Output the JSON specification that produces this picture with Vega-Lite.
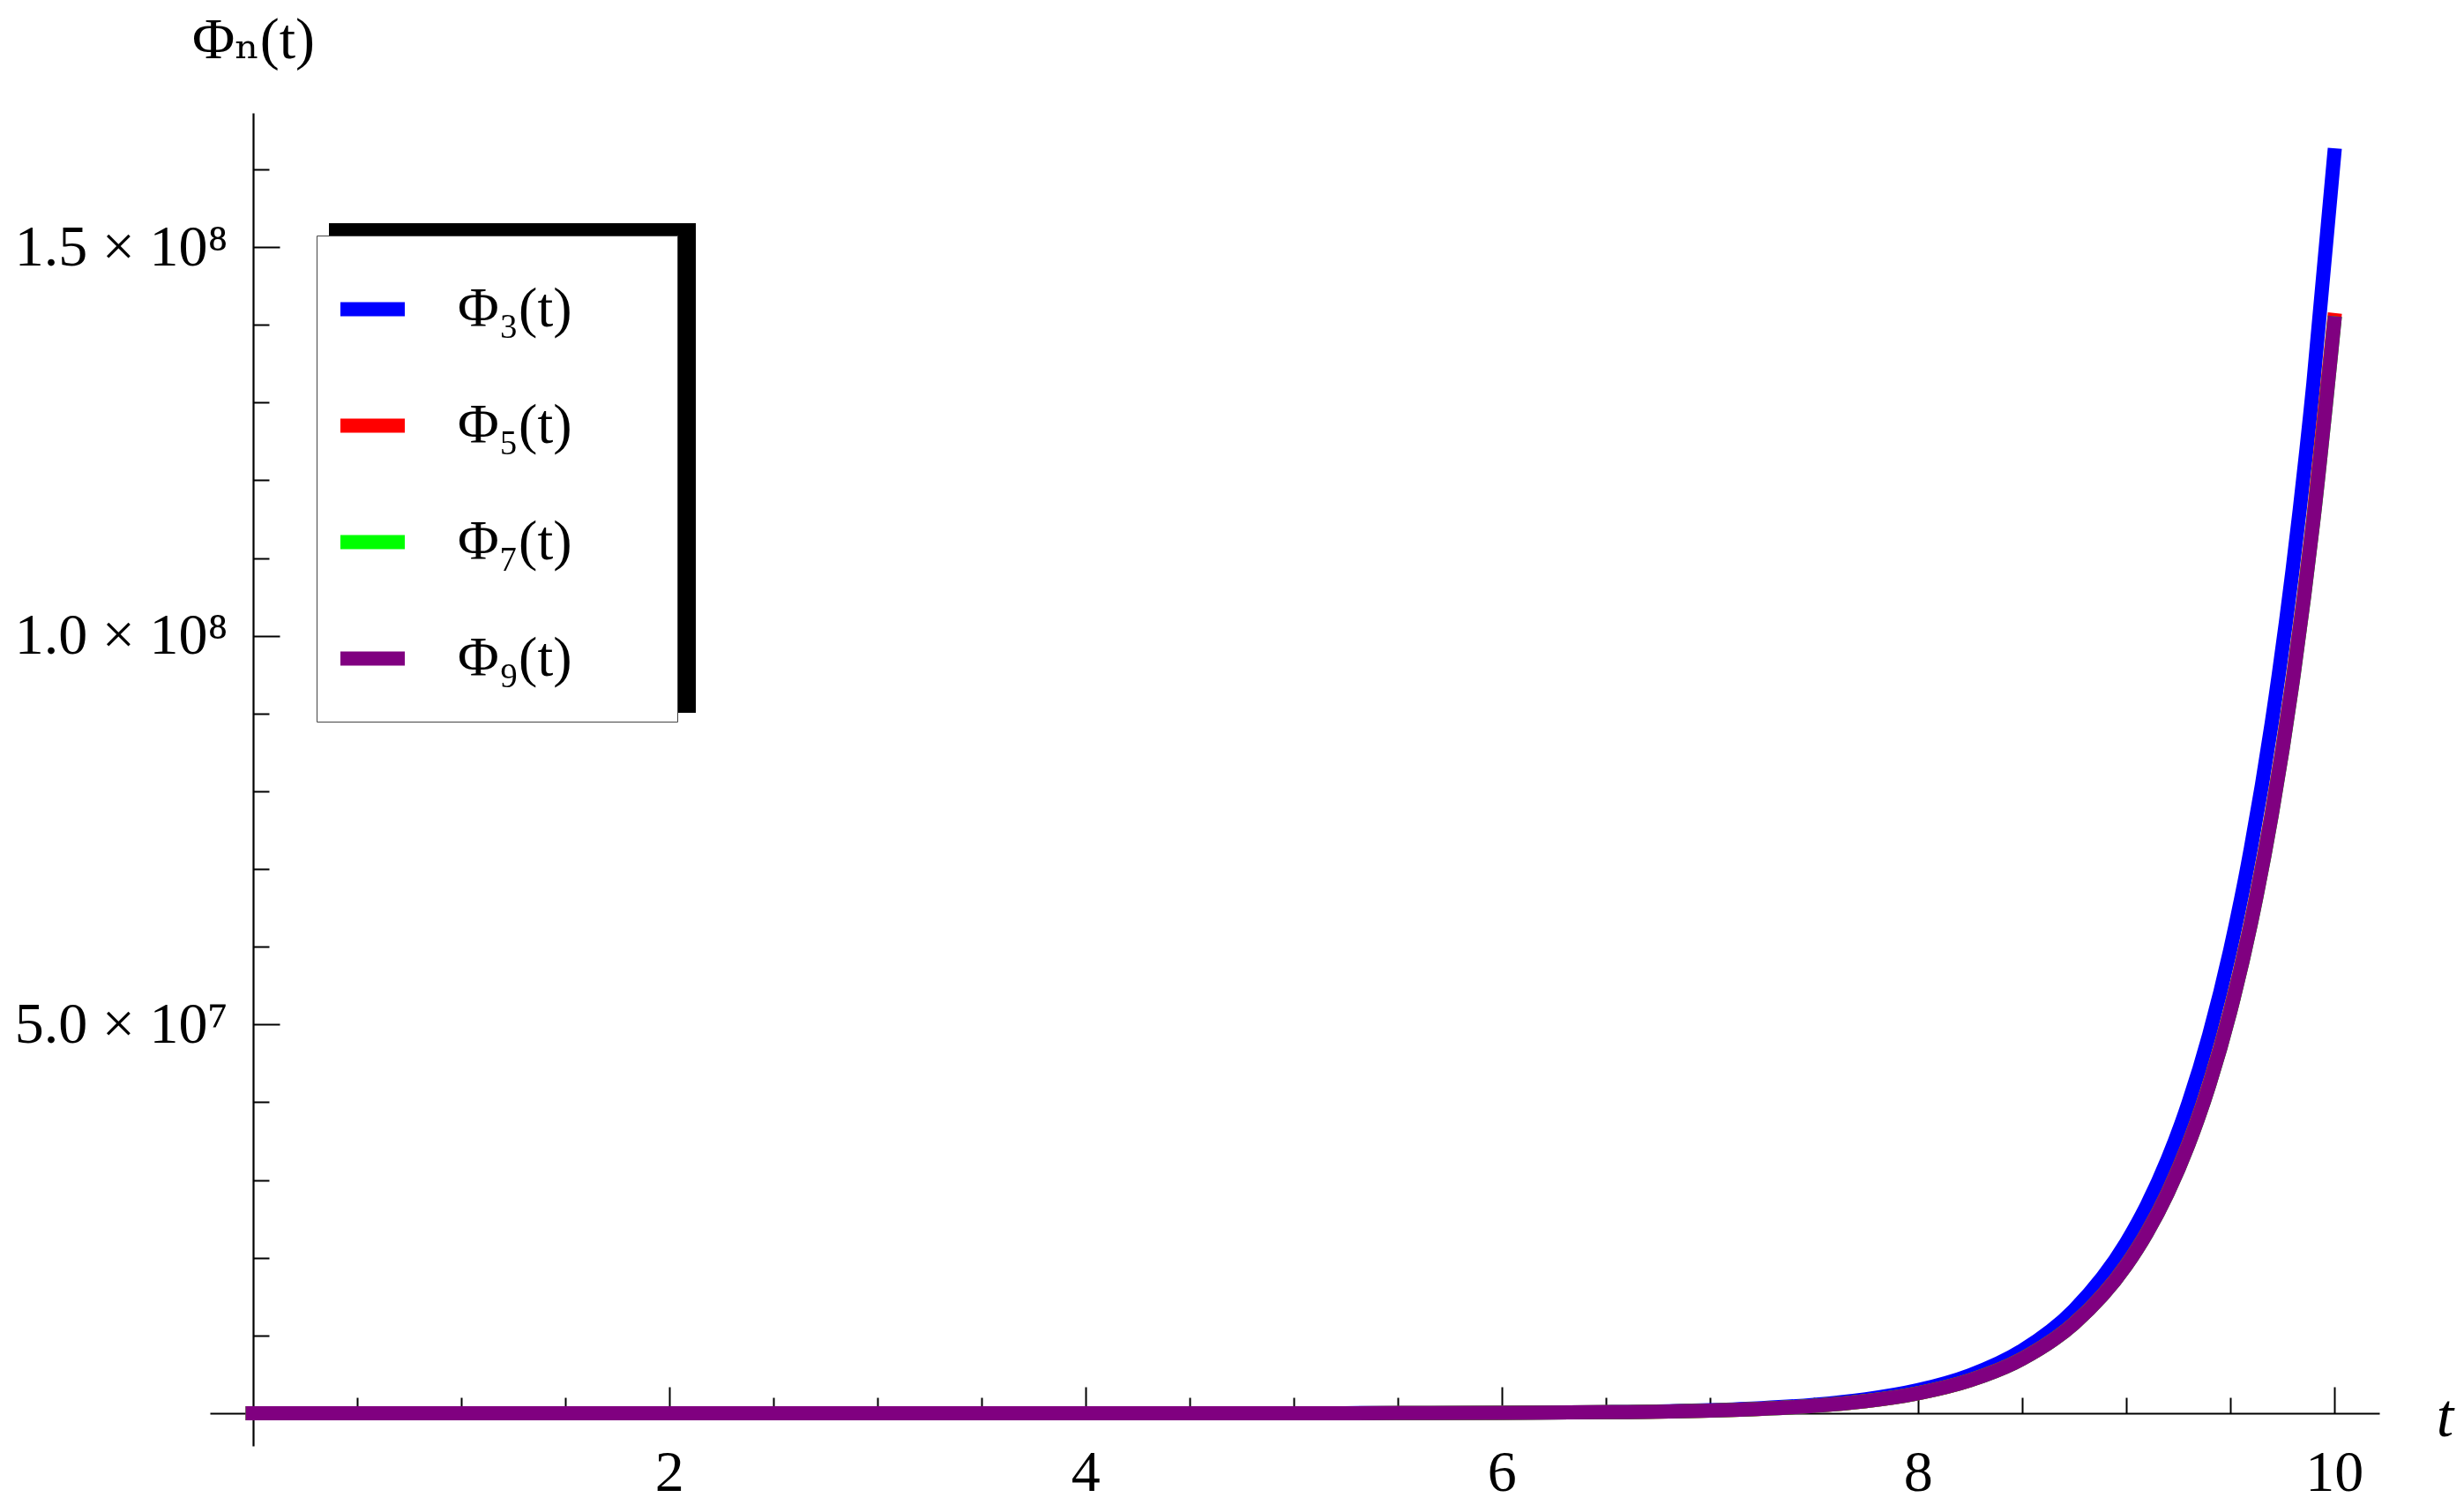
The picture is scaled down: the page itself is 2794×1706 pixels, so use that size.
{
  "$schema": "https://vega.github.io/schema/vega-lite/v6.json",
  "width": 2460,
  "height": 1511,
  "autosize": {"type": "none"},
  "padding": {"left": 238, "top": 128, "right": 96, "bottom": 67},
  "background": "white",
  "config": {
    "view": {"stroke": null},
    "font": "Liberation Serif, DejaVu Serif",
    "axis": {
      "domainColor": "black", "tickColor": "black", "labelColor": "black", "titleColor": "black",
      "labelFont": "Liberation Serif, DejaVu Serif", "titleFont": "Liberation Serif, DejaVu Serif", "labelFontSize": 66,
      "grid": false, "zindex": 1, "tickWidth": 2, "domainWidth": 2.2,
      "labelFlush": false, "labelOverlap": false, "labelLimit": 0
    }
  },
  "data": {"values": [
    {"t":0,"s":"Φ₃(t)","v":0.33},{"t":1,"s":"Φ₃(t)","v":2.46},{"t":2,"s":"Φ₃(t)","v":18.2},{"t":3,"s":"Φ₃(t)","v":134.5},{"t":4,"s":"Φ₃(t)","v":994},{"t":5,"s":"Φ₃(t)","v":7346},{"t":5.5,"s":"Φ₃(t)","v":19968},{"t":6,"s":"Φ₃(t)","v":54279},{"t":6.5,"s":"Φ₃(t)","v":147545},{"t":7,"s":"Φ₃(t)","v":401068},{"t":7.25,"s":"Φ₃(t)","v":661250},{"t":7.5,"s":"Φ₃(t)","v":1090217},{"t":7.75,"s":"Φ₃(t)","v":1797464},{"t":8,"s":"Φ₃(t)","v":2963518},{"t":8.25,"s":"Φ₃(t)","v":4886015},{"t":8.5,"s":"Φ₃(t)","v":8055677},{"t":8.75,"s":"Φ₃(t)","v":13281566},{"t":9,"s":"Φ₃(t)","v":21897600},{"t":9.1,"s":"Φ₃(t)","v":26745789},{"t":9.2,"s":"Φ₃(t)","v":32667380},{"t":9.3,"s":"Φ₃(t)","v":39900028},{"t":9.4,"s":"Φ₃(t)","v":48733700},{"t":9.5,"s":"Φ₃(t)","v":59523847},{"t":9.6,"s":"Φ₃(t)","v":72702591},{"t":9.7,"s":"Φ₃(t)","v":88799146},{"t":9.8,"s":"Φ₃(t)","v":108459521},{"t":9.9,"s":"Φ₃(t)","v":132472848},{"t":10,"s":"Φ₃(t)","v":161802593},
    {"t":0,"s":"Φ₅(t)","v":0.29},{"t":1,"s":"Φ₅(t)","v":2.14},{"t":2,"s":"Φ₅(t)","v":15.83},{"t":3,"s":"Φ₅(t)","v":117},{"t":4,"s":"Φ₅(t)","v":864},{"t":5,"s":"Φ₅(t)","v":6384},{"t":5.5,"s":"Φ₅(t)","v":17354},{"t":6,"s":"Φ₅(t)","v":47172},{"t":6.5,"s":"Φ₅(t)","v":128228},{"t":7,"s":"Φ₅(t)","v":348561},{"t":7.25,"s":"Φ₅(t)","v":574677},{"t":7.5,"s":"Φ₅(t)","v":947482},{"t":7.75,"s":"Φ₅(t)","v":1562138},{"t":8,"s":"Φ₅(t)","v":2575523},{"t":8.25,"s":"Φ₅(t)","v":4246319},{"t":8.5,"s":"Φ₅(t)","v":7000987},{"t":8.75,"s":"Φ₅(t)","v":11542692},{"t":9,"s":"Φ₅(t)","v":19030682},{"t":9.1,"s":"Φ₅(t)","v":23244128},{"t":9.2,"s":"Φ₅(t)","v":28390443},{"t":9.3,"s":"Φ₅(t)","v":34676164},{"t":9.4,"s":"Φ₅(t)","v":42353299},{"t":9.5,"s":"Φ₅(t)","v":51731160},{"t":9.6,"s":"Φ₅(t)","v":63184663},{"t":9.7,"s":"Φ₅(t)","v":77174226},{"t":9.8,"s":"Φ₅(t)","v":94260591},{"t":9.9,"s":"Φ₅(t)","v":115129000},{"t":10,"s":"Φ₅(t)","v":140619584},
    {"t":0,"s":"Φ₇(t)","v":0.29},{"t":1,"s":"Φ₇(t)","v":2.135},{"t":2,"s":"Φ₇(t)","v":15.78},{"t":3,"s":"Φ₇(t)","v":116.6},{"t":4,"s":"Φ₇(t)","v":861.4},{"t":5,"s":"Φ₇(t)","v":6365},{"t":5.5,"s":"Φ₇(t)","v":17302},{"t":6,"s":"Φ₇(t)","v":47031},{"t":6.5,"s":"Φ₇(t)","v":127844},{"t":7,"s":"Φ₇(t)","v":347518},{"t":7.25,"s":"Φ₇(t)","v":572958},{"t":7.5,"s":"Φ₇(t)","v":944648},{"t":7.75,"s":"Φ₇(t)","v":1557466},{"t":8,"s":"Φ₇(t)","v":2567820},{"t":8.25,"s":"Φ₇(t)","v":4233618},{"t":8.5,"s":"Φ₇(t)","v":6980047},{"t":8.75,"s":"Φ₇(t)","v":11508168},{"t":9,"s":"Φ₇(t)","v":18973761},{"t":9.1,"s":"Φ₇(t)","v":23174604},{"t":9.2,"s":"Φ₇(t)","v":28305526},{"t":9.3,"s":"Φ₇(t)","v":34572447},{"t":9.4,"s":"Φ₇(t)","v":42226619},{"t":9.5,"s":"Φ₇(t)","v":51576431},{"t":9.6,"s":"Φ₇(t)","v":62995676},{"t":9.7,"s":"Φ₇(t)","v":76943396},{"t":9.8,"s":"Φ₇(t)","v":93978655},{"t":9.9,"s":"Φ₇(t)","v":114784645},{"t":10,"s":"Φ₇(t)","v":140198987},
    {"t":0,"s":"Φ₉(t)","v":0.29},{"t":1,"s":"Φ₉(t)","v":2.135},{"t":2,"s":"Φ₉(t)","v":15.78},{"t":3,"s":"Φ₉(t)","v":116.6},{"t":4,"s":"Φ₉(t)","v":861.4},{"t":5,"s":"Φ₉(t)","v":6365},{"t":5.5,"s":"Φ₉(t)","v":17302},{"t":6,"s":"Φ₉(t)","v":47031},{"t":6.5,"s":"Φ₉(t)","v":127844},{"t":7,"s":"Φ₉(t)","v":347518},{"t":7.25,"s":"Φ₉(t)","v":572958},{"t":7.5,"s":"Φ₉(t)","v":944648},{"t":7.75,"s":"Φ₉(t)","v":1557466},{"t":8,"s":"Φ₉(t)","v":2567820},{"t":8.25,"s":"Φ₉(t)","v":4233618},{"t":8.5,"s":"Φ₉(t)","v":6980047},{"t":8.75,"s":"Φ₉(t)","v":11508168},{"t":9,"s":"Φ₉(t)","v":18973761},{"t":9.1,"s":"Φ₉(t)","v":23174604},{"t":9.2,"s":"Φ₉(t)","v":28305526},{"t":9.3,"s":"Φ₉(t)","v":34572447},{"t":9.4,"s":"Φ₉(t)","v":42226619},{"t":9.5,"s":"Φ₉(t)","v":51576431},{"t":9.6,"s":"Φ₉(t)","v":62995676},{"t":9.7,"s":"Φ₉(t)","v":76943396},{"t":9.8,"s":"Φ₉(t)","v":93978655},{"t":9.9,"s":"Φ₉(t)","v":114784645},{"t":10,"s":"Φ₉(t)","v":140198987}
  ]},
  "resolve": {"axis": {"x": "independent", "y": "independent"}},
  "layer": [
    {
      "mark": {"type": "line", "strokeWidth": 16, "strokeCap": "square", "interpolate": "monotone"},
      "encoding": {
        "x": {
          "field": "t", "type": "quantitative",
          "scale": {"domain": [-0.206, 10.217], "nice": false, "zero": false},
          "axis": {
            "orient": "bottom", "offset": -37, "values": [2, 4, 6, 8, 10],
            "tickSize": -30, "labelPadding": 65,
            "title": "t", "titleFontStyle": "italic", "titleFontWeight": "normal", "titleFontSize": 70,
            "titleX": 2534, "titleY": 4, "titleAlign": "center", "titleBaseline": "middle"
          }
        },
        "y": {
          "field": "v", "type": "quantitative",
          "scale": {"domain": [-4200000, 167260000], "nice": false, "zero": false},
          "axis": {
            "orient": "left", "offset": -49, "values": [50000000, 100000000, 150000000],
            "tickSize": -30, "labelPadding": 59,
            "labelExpr": "datum.value == 50000000 ? '5.0 × 10⁷' : datum.value == 100000000 ? '1.0 × 10⁸' : '1.5 × 10⁸'",
            "title": "Φₙ(t)", "titleAngle": 0, "titleX": 0, "titleY": -83,
            "titleAlign": "center", "titleBaseline": "middle", "titleFontSize": 66, "titleFontWeight": "normal"
          }
        },
        "color": {
          "field": "s", "type": "nominal",
          "scale": {"domain": ["Φ₃(t)", "Φ₅(t)", "Φ₇(t)", "Φ₉(t)"], "range": ["#0000ff", "#ff0000", "#00ff00", "#800080"]},
          "legend": {
            "orient": "none", "legendX": 121, "legendY": 139, "title": null,
            "symbolType": "stroke", "symbolStrokeWidth": 16, "symbolSize": 5329, "symbolOffset": -20,
            "labelFont": "Liberation Serif, DejaVu Serif", "labelFontSize": 64, "labelColor": "black",
            "labelOffset": 52, "rowPadding": 55, "padding": 39, "labelLimit": 0,
            "labelExpr": "datum.label + '\u00a0\u00a0\u00a0\u00a0\u00a0\u200b'",
            "fillColor": "white", "strokeColor": "#444444", "zindex": 5
          }
        }
      }
    },
    {
      "mark": {"type": "point", "opacity": 0},
      "encoding": {
        "x": {
          "field": "t", "type": "quantitative",
          "scale": {"domain": [-0.206, 10.217], "nice": false, "zero": false},
          "axis": {
            "orient": "bottom", "offset": -37,
            "values": [0.5, 1, 1.5, 2.5, 3, 3.5, 4.5, 5, 5.5, 6.5, 7, 7.5, 8.5, 9, 9.5],
            "tickSize": -18, "labels": false, "domain": false, "title": null
          }
        },
        "y": {
          "field": "v", "type": "quantitative",
          "scale": {"domain": [-4200000, 167260000], "nice": false, "zero": false},
          "axis": {
            "orient": "left", "offset": -49,
            "values": [10000000, 20000000, 30000000, 40000000, 60000000, 70000000, 80000000, 90000000, 110000000, 120000000, 130000000, 140000000, 160000000],
            "tickSize": -18, "labels": false, "domain": false, "title": null
          }
        }
      }
    },
    {
      "data": {"values": [{"q": 0}, {"q": 1}]},
      "mark": {"type": "point", "opacity": 0},
      "encoding": {
        "fill": {
          "field": "q", "type": "quantitative",
          "scale": {"domain": [0, 1], "range": ["#000000", "#000000"]},
          "legend": {
            "type": "gradient", "direction": "vertical",
            "orient": "none", "legendX": 135, "legendY": 125, "title": null,
            "gradientLength": 555, "gradientThickness": 416,
            "gradientStrokeColor": "#000000", "gradientStrokeWidth": 0,
            "values": [0.5], "labelFontSize": 12, "labelColor": "black", "labelOffset": -300,
            "padding": 0, "zindex": 4
          }
        }
      }
    }
  ]
}
